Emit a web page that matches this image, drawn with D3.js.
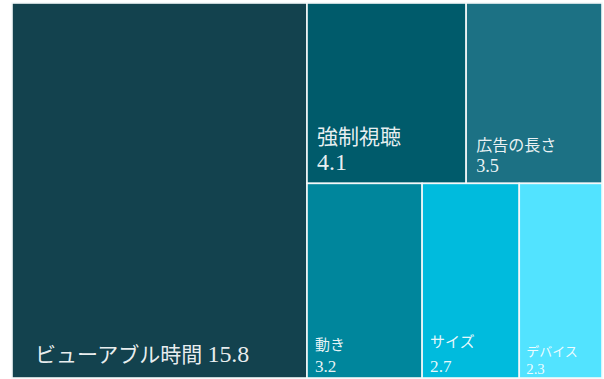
<!DOCTYPE html>
<html>
<head>
<meta charset="utf-8">
<script src="https://cdn.jsdelivr.net/npm/d3@7"></script>
<style>
  html, body { margin: 0; padding: 0; background: #fff; }
  svg { display: block; }
  text { font-family: "Liberation Serif", "DejaVu Serif", "Noto Sans CJK JP", serif; fill: #fff; fill-opacity: 0.92; }
</style>
</head>
<body>
<svg id="chart" width="604" height="379"></svg>
<script>
// Factors and their scores
const labels = ["ビューアブル時間", "強制視聴", "広告の長さ", "動き", "サイズ", "デバイス"];
const values = [15.8, 4.1, 3.5, 3.2, 2.7, 2.3];
// Row grouping of the tiles (0 = main tile, 1 = upper right row, 2 = lower right row)
const rows = [0, 1, 1, 2, 2, 2];
const colors = ["#13424e", "#005b6b", "#1c7184", "#00869c", "#00bbdd", "#52e3ff"];

const svg = d3.select("#chart");

// Build nested hierarchy: main tile beside a stack of rows
const items = labels.map((name, i) => ({ name, value: values[i], row: rows[i], color: colors[i] }));
const main = items.filter(d => d.row === 0);
const stack = Array.from(d3.group(items.filter(d => d.row > 0), d => d.row),
  ([row, children]) => ({ name: "row" + row, children }));
const rootData = { name: "root", children: [...main, { name: "rest", children: stack }] };

const root = d3.hierarchy(rootData)
  .sum(d => d.children ? 0 : d.value);

d3.treemap()
  .tile(d3.treemapSliceDice)
  .size([590, 375])
  .round(false)(root);

const leaves = root.leaves();

// Label styling per tile
const labelStyle = {
  "ビューアブル時間": { size: 21, inline: true, dx: 23, dy: -16 },
  "強制視聴": { size: 21, dx: 10, dy: -39, gap: 26 },
  "広告の長さ": { size: 16, dx: 10, dy: -32, gap: 21 },
  "動き": { size: 15, dx: 8, dy: -28, gap: 22 },
  "サイズ": { size: 15, dx: 8, dy: -31, gap: 25 },
  "デバイス": { size: 13, dx: 7, dy: -22, gap: 18 }
};
const numScale = 1.14;

const g = svg.append("g").attr("transform", "translate(12,3)");
const cell = g.selectAll("g.cell").data(leaves).join("g").attr("class", "cell");

cell.append("rect")
  .attr("x", d => d.x0)
  .attr("y", d => d.y0)
  .attr("width", d => d.x1 - d.x0)
  .attr("height", d => d.y1 - d.y0)
  .attr("fill", d => d.data.color)
  .attr("stroke", "#f4f8f9")
  .attr("stroke-width", 1.6);

const fmt = d3.format(".1f");
cell.each(function(d) {
  const s = labelStyle[d.data.name];
  const sel = d3.select(this);
  if (s.inline) {
    const t = sel.append("text")
      .attr("x", d.x0 + s.dx)
      .attr("y", d.y1 + s.dy)
      .attr("font-size", s.size);
    t.append("tspan").text(d.data.name + " ");
    t.append("tspan").attr("font-size", s.size * numScale).text(fmt(d.data.value));
  } else {
    sel.append("text")
      .attr("x", d.x0 + s.dx)
      .attr("y", d.y1 + s.dy)
      .attr("font-size", s.size)
      .text(d.data.name);
    sel.append("text")
      .attr("x", d.x0 + s.dx)
      .attr("y", d.y1 + s.dy + s.gap)
      .attr("font-size", s.size * numScale)
      .text(fmt(d.data.value));
  }
});
</script>
</body>
</html>
